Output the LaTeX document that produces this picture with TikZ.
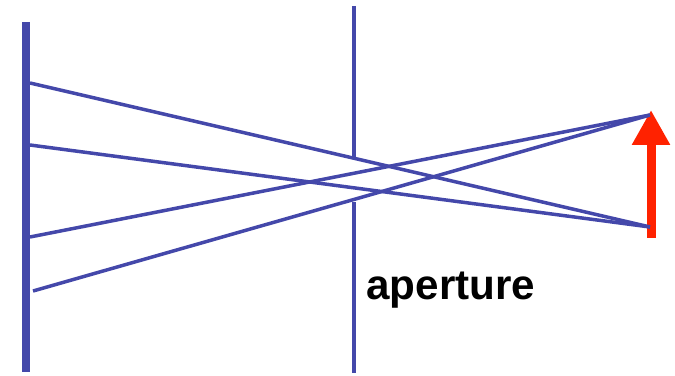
\documentclass[tikz,border=0pt]{standalone}
\usepackage{fontspec}
\setmainfont{Liberation Sans}
\usetikzlibrary{positioning,arrows.meta}

\definecolor{raycol}{RGB}{68,72,170}
\definecolor{objcol}{RGB}{255,34,0}

\begin{document}
\begin{tikzpicture}[
    x=0.02cm, y=0.02cm,
    film/.style={draw=raycol, line width=0.16cm},
    wall/.style={draw=raycol, line width=0.065cm},
    ray/.style={draw=raycol, line width=0.07cm},
    object/.style={draw=objcol, line width=0.18cm, -{Triangle[length=0.7cm, width=0.72cm]}},
    label/.style={font=\bfseries\fontsize{24}{28}\selectfont, inner sep=0pt, anchor=base west}
]
\useasboundingbox (0,0) rectangle (675,375);

% film plane
\coordinate (filmtop) at (26,353);
\coordinate (filmbot) at (26,3);
\draw[film] (filmtop) -- (filmbot);

% aperture wall
\coordinate (walltop) at (354,369);
\coordinate (holetop) at (354,217);
\coordinate (holebot) at (354,173);
\coordinate (wallbot) at (354,2);
\draw[wall] (walltop) -- (holetop);
\draw[wall] (holebot) -- (wallbot);

% object
\coordinate (objbot) at (651,137);
\coordinate (objtip) at (651,265);
\coordinate (top) at (650,260);
\coordinate (bot) at (650,148);
\draw[object] (objbot) -- (objtip);

% rays
\coordinate (f1) at (30,292);
\coordinate (f2) at (30,230);
\coordinate (f3) at (30,138);
\coordinate (f4) at (33,84);
\draw[ray] (f1) -- (bot);
\draw[ray] (f2) -- (bot);
\draw[ray] (f3) -- (top);
\draw[ray] (f4) -- (top);

\node[label] (aperture) at (366,75) {aperture};
\end{tikzpicture}
\end{document}
